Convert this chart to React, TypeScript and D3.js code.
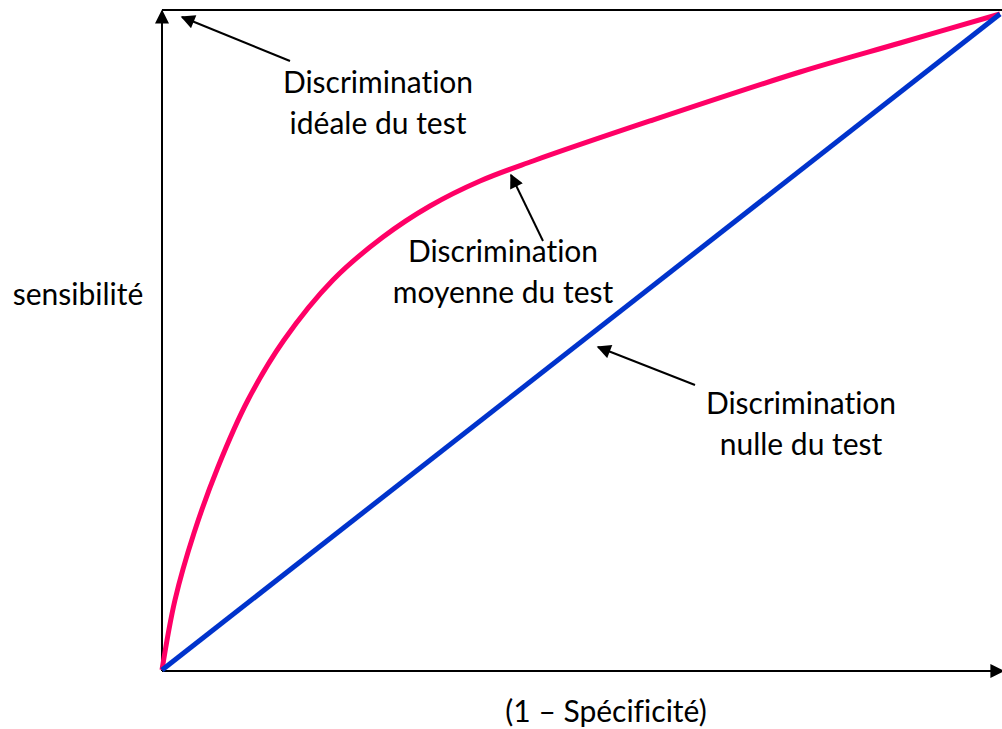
import React from "react";
import * as d3 from "d3";

// Courbe ROC "moyenne" (1 - spécificité, sensibilité)
const rocX = [0, 0.0155, 0.0382, 0.0668, 0.1026, 0.1456, 0.204, 0.2637, 0.3198, 0.3795, 0.4427, 0.5823, 0.7613, 0.8807, 1];
const rocY = [0, 0.1067, 0.2088, 0.3095, 0.4116, 0.503, 0.5945, 0.66, 0.7073, 0.7454, 0.7759, 0.8369, 0.9116, 0.9558, 1];
// Diagonale (discrimination nulle)
const diagX = [0, 1];
const diagY = [0, 1];

const xLabel = "(1 – Spécificité)";
const yLabel = "sensibilité";

const annotationLines = [
  ["Discrimination", "idéale du test"],
  ["Discrimination", "moyenne du test"],
  ["Discrimination", "nulle du test"],
];

const W = 1002;
const H = 729;
const FONT = "Lato, 'Open Sans', sans-serif";
const FS = 30;

export default function App() {
  const x = d3.scaleLinear().domain([0, 1]).range([162, 1000]);
  const y = d3.scaleLinear().domain([0, 1]).range([670, 14]);

  const line = d3
    .line<[number, number]>()
    .x((d) => x(d[0]))
    .y((d) => y(d[1]))
    .curve(d3.curveCatmullRom.alpha(0.5));

  const rocPts: [number, number][] = rocX.map((v, i) => [v, rocY[i]]);
  const diagPts: [number, number][] = diagX.map((v, i) => [v, diagY[i]]);

  const axisX0 = x(0);
  const axisY0 = y(0) + 1;

  const arrows = [
    { from: [290, 61], to: [182, 17] },
    { from: [543, 241], to: [511, 175] },
    { from: [695, 385], to: [598, 347] },
  ];
  const labelPos = [
    { cx: 378, y: 93 },
    { cx: 503, y: 262 },
    { cx: 801, y: 414 },
  ];

  const textStyle: React.CSSProperties = { fontVariantLigatures: "none" };

  return (
    <svg
      width={W}
      height={H}
      style={{ position: "absolute", left: 0, top: 0, background: "#fff" }}
    >
      <defs>
        <marker
          id="ah"
          viewBox="0 0 10 10"
          refX="9"
          refY="5"
          markerWidth="7.5"
          markerHeight="7"
          markerUnits="strokeWidth"
          orient="auto"
        >
          <path d="M0,0 L10,5 L0,10 z" fill="#000" />
        </marker>
        <marker
          id="axh"
          viewBox="0 0 10 10"
          refX="9"
          refY="5"
          markerWidth="7.5"
          markerHeight="7"
          markerUnits="strokeWidth"
          orient="auto"
        >
          <path d="M0,0 L10,5 L0,10 z" fill="#000" />
        </marker>
      </defs>

      {/* top border */}
      <line x1={axisX0} x2={W} y1={10} y2={10} stroke="#000" strokeWidth={2} />

      {/* axes */}
      <line
        x1={axisX0}
        y1={axisY0}
        x2={axisX0}
        y2={11}
        stroke="#000"
        strokeWidth={2}
        markerEnd="url(#axh)"
      />
      <line
        x1={axisX0}
        y1={axisY0}
        x2={1003}
        y2={axisY0}
        stroke="#000"
        strokeWidth={2}
        markerEnd="url(#axh)"
      />

      {/* curves */}
      <path d={line(rocPts) || ""} fill="none" stroke="#FF0066" strokeWidth={5} />
      <path d={line(diagPts) || ""} fill="none" stroke="#0033CC" strokeWidth={5} />

      {/* annotation arrows */}
      {arrows.map((a, i) => (
        <line
          key={i}
          x1={a.from[0]}
          y1={a.from[1]}
          x2={a.to[0]}
          y2={a.to[1]}
          stroke="#000"
          strokeWidth={2}
          markerEnd="url(#ah)"
        />
      ))}

      {/* annotation labels */}
      {annotationLines.map((lines, i) => (
        <text
          key={i}
          x={labelPos[i].cx}
          y={labelPos[i].y}
          textAnchor="middle"
          fontFamily={FONT}
          fontSize={FS}
          fill="#000"
          style={textStyle}
        >
          {lines.map((t, j) => (
            <tspan key={j} x={labelPos[i].cx} dy={j === 0 ? 0 : 41}>
              {t}
            </tspan>
          ))}
        </text>
      ))}

      {/* axis labels */}
      <text x={78} y={305} textAnchor="middle" fontFamily={FONT} fontSize={FS} fill="#000" style={textStyle}>
        {yLabel}
      </text>
      <text x={606} y={722} textAnchor="middle" fontFamily={FONT} fontSize={FS} fill="#000" style={textStyle}>
        {xLabel}
      </text>
    </svg>
  );
}
